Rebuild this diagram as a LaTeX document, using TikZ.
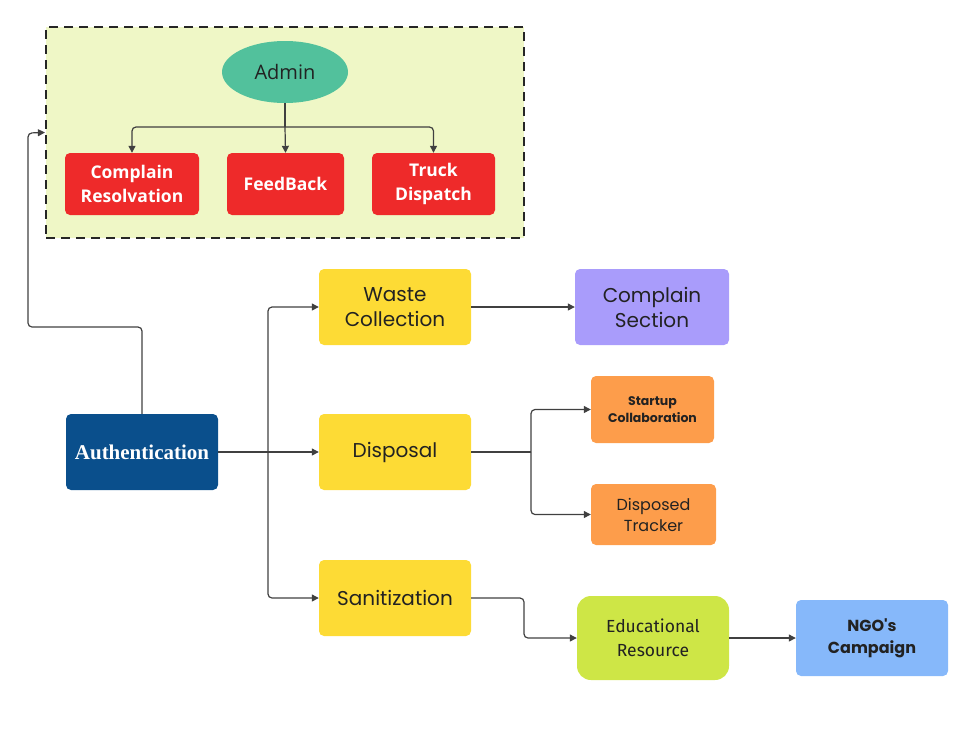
\documentclass[tikz,border=0pt]{standalone}
\usepackage{fontspec}
\usetikzlibrary{arrows.meta,shapes.geometric}
\newfontfamily\popf{Poppins}
\newfontfamily\opsf{Open Sans}
\newfontfamily\serf{Liberation Serif}
\newfontfamily\firf{Fira Sans}
\definecolor{contfill}{HTML}{EFF7C6}
\definecolor{adminc}{HTML}{52C19C}
\definecolor{redc}{HTML}{EE2A2A}
\definecolor{authc}{HTML}{0A4F8C}
\definecolor{yelc}{HTML}{FDDB35}
\definecolor{lavc}{HTML}{A99CFB}
\definecolor{orc}{HTML}{FD9D4B}
\definecolor{limec}{HTML}{CEE646}
\definecolor{bluec}{HTML}{86B8FA}
\definecolor{linec}{HTML}{404040}
\definecolor{txtc}{HTML}{222222}
\tikzset{
  box/.style={rectangle, rounded corners=5pt, draw=none, align=center, inner sep=2pt, text=txtc},
  redbox/.style={box, fill=redc, text=white, font=\opsf\bfseries\fontsize{17.5}{24}\selectfont, minimum height=62pt},
  yelbox/.style={box, fill=yelc, minimum width=152pt, minimum height=76pt, font=\popf\fontsize{20}{25}\selectfont},
  orbox/.style={box, fill=orc},
  conn/.style={draw=linec, line width=1.2pt, -{Triangle[length=7pt,width=7pt]}, rounded corners=4pt},
  plain/.style={draw=linec, line width=1.2pt, rounded corners=4pt}
}
\begin{document}
\begin{tikzpicture}[x=1pt,y=-1pt]
\useasboundingbox (0,0) rectangle (965,729);
% container
\node[rectangle, draw=black!85, fill=contfill, dash pattern=on 9pt off 6pt, line width=2.2pt, minimum width=478pt, minimum height=211pt, inner sep=0pt] (cont) at (285,132.5) {};
\node[ellipse, fill=adminc, minimum width=126pt, minimum height=62pt, inner sep=0pt, font=\opsf\fontsize{20}{24}\selectfont, text=txtc] (admin) at (285,72) {Admin};
\node[redbox, minimum width=134pt] (cres) at (132,184) {Complain\\Resolvation};
\node[redbox, minimum width=117pt] (fb) at (285.5,184) {FeedBack};
\node[redbox, minimum width=123pt] (truck) at (433.5,184) {Truck\\Dispatch};
\coordinate (aj) at (285,127);
\draw[plain] (admin.south) -- (aj);
\draw[conn] (aj) -| (cres.north);
\draw[conn] (aj) -- (fb.north);
\draw[conn] (aj) -| (truck.north);
% authentication
\node[box, fill=authc, text=white, minimum width=152pt, minimum height=76pt, font=\serf\bfseries\fontsize{21}{25}\selectfont] (auth) at (142,452) {Authentication};
\coordinate (a1) at (142,327);
\coordinate (a2) at (28,327);
\coordinate (a3) at (28,133);
\draw[conn] (auth.north) -- (a1) -- (a2) -- (a3) -- (cont.west);
% yellow boxes
\node[yelbox] (waste) at (395,307) {Waste\\Collection};
\node[yelbox] (disp) at (395,452) {Disposal};
\node[yelbox] (sani) at (395,598) {Sanitization};
\coordinate (j1) at (268,452);
\draw[plain] (auth.east) -- (j1);
\draw[conn] (j1) |- (waste.west);
\draw[conn] (j1) -- (disp.west);
\draw[conn] (j1) |- (sani.west);
% complain section
\node[box, fill=lavc, minimum width=154pt, minimum height=76pt, font=\popf\fontsize{20}{25}\selectfont] (csec) at (652,307) {Complain\\Section};
\draw[conn] (waste.east) -- (csec.west);
% orange
\node[orbox, minimum width=123pt, minimum height=67pt, font=\popf\bfseries\fontsize{12.5}{17}\selectfont] (start) at (652.5,409.5) {Startup\\Collaboration};
\node[orbox, minimum width=125pt, minimum height=61pt, font=\popf\fontsize{16}{21}\selectfont] (dtrack) at (653.5,514.5) {Disposed\\Tracker};
\coordinate (j2) at (531,452);
\draw[plain] (disp.east) -- (j2);
\draw[conn] (j2) |- (start.west);
\draw[conn] (j2) |- (dtrack.west);
% educational
\node[box, rounded corners=14pt, fill=limec, minimum width=152pt, minimum height=84pt, font=\firf\fontsize{17.5}{24}\selectfont] (edu) at (653,638) {Educational\\Resource};
\coordinate (s1) at (524,598);
\coordinate (s2) at (524,638);
\draw[conn] (sani.east) -- (s1) -- (s2) -- (edu.west);
\node[box, fill=bluec, minimum width=152pt, minimum height=76pt, font=\popf\bfseries\fontsize{16}{22}\selectfont] (ngo) at (872,638) {NGO's\\Campaign};
\draw[conn] (edu.east) -- (ngo.west);
\end{tikzpicture}
\end{document}
